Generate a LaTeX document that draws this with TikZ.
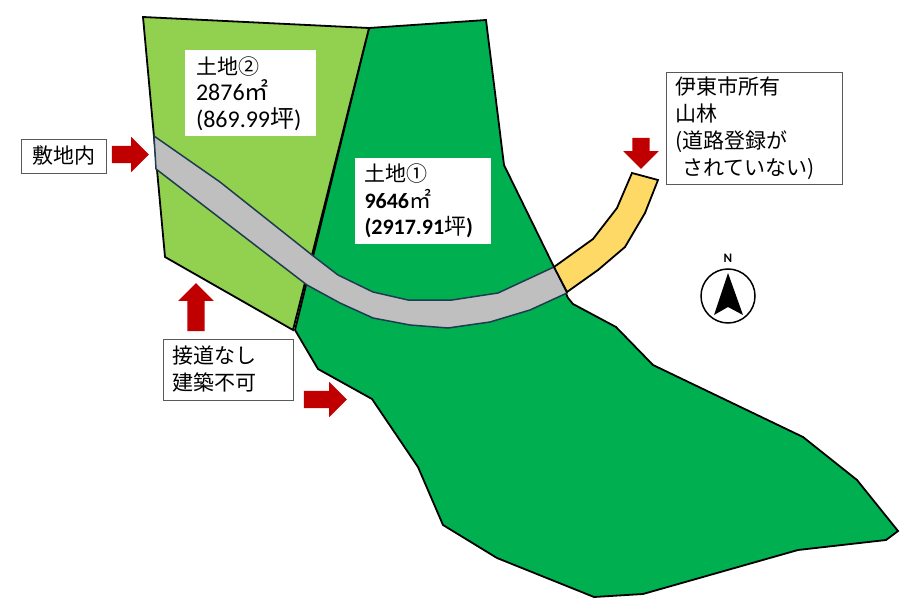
\documentclass[tikz,border=0pt]{standalone}
\usepackage{fontspec}
\setmainfont{Carlito}
\newfontfamily\jpfont{Noto Sans CJK JP}
\newcommand{\jp}[1]{{\mdseries\jpfont #1}}
\usetikzlibrary{shapes.arrows}
\definecolor{landone}{HTML}{00B050}
\definecolor{landtwo}{HTML}{92D050}
\definecolor{roadgray}{HTML}{BFBFBF}
\definecolor{roadedge}{HTML}{1F3B50}
\definecolor{forestyellow}{HTML}{FFD966}
\definecolor{markred}{HTML}{C00000}
\definecolor{boxedge}{HTML}{595959}

\begin{document}
\begin{tikzpicture}[x=1bp, y=-1bp,
    plot/.style={draw=black, line width=1.8bp, line join=miter},
    road/.style={draw=roadedge, line width=1.5bp, fill=roadgray},
    redarrow/.style={single arrow, fill=markred, inner xsep=0pt, inner ysep=8.5bp, minimum height=37bp, minimum width=35bp,
      single arrow head extend=9bp, single arrow head indent=0pt},
    callout/.style={draw=boxedge, line width=0.8bp, fill=white, inner sep=0pt, align=left,
      font=\fontsize{21bp}{27bp}\selectfont\jpfont},
    arealabel/.style={fill=white, inner sep=0pt, align=left, font=\fontsize{24bp}{26.5bp}\selectfont}]
  \useasboundingbox (0,0) rectangle (920,612);

  % Land 1
  \fill[landone, plot] (369,28) -- (486,20) -- (504,165) -- (554,267) -- (568,298) -- (573,304) -- (616,327) -- (653,365)
    -- (803,437) -- (857,480) -- (898,531) -- (886,540) -- (798,550) -- (643,594) -- (594,597) -- (497,558)
    -- (443,525) -- (418,467) -- (372,399) -- (318,369) -- (295,330) -- cycle;

  % Land 2
  \fill[landtwo, plot] (143,17) -- (369,28) -- (312,255) -- (293,330) -- (165,257) -- cycle;

  % Road through both plots
  \draw[road] (154,136) -- (220,182) -- (312,255) -- (338,275) -- (373,292) -- (408,300) -- (452,300)
    -- (498,293) -- (554,267) -- (567,293) -- (530,310) -- (490,322) -- (448,328) -- (410,325) -- (373,318)
    -- (340,303) -- (307,285) -- (156,169) -- cycle;

  % City forest strip
  \fill[forestyellow, plot] (554,267) -- (593,239) -- (617,208) -- (632,173) -- (658,180) -- (645,213)
    -- (625,247) -- (598,270) -- (567,292) -- cycle;

  % Labels on the plots
  \node[arealabel, minimum width=131bp, minimum height=86bp, text width=109bp] (land2) at (250.5,93.5)
    {\jp{\fontsize{21bp}{26.5bp}\selectfont 土地②}\\2876\jp{㎡}\\(869.99\jp{坪})};
  \node[arealabel, minimum width=136bp, minimum height=86bp, text width=117bp, font=\fontsize{22bp}{26.5bp}\selectfont\bfseries] (land1) at (423,201)
    {\jp{\fontsize{21bp}{26.5bp}\selectfont 土地①}\\9646\jp{㎡}\\(2917.91\jp{坪})};

  % Callouts
  \node[callout, minimum width=85bp, minimum height=34bp, align=center] (inside) at (63.5,156) {敷地内};
  \node[callout, minimum width=130bp, minimum height=61bp, text width=112bp] (noaccess) at (228,369.5) {接道なし\\建築不可};
  \node[callout, minimum width=176bp, minimum height=112bp, text width=158bp] (cityforest) at (754,128)
    {伊東市所有\\山林\\(道路登録が\\ \ されていない)};

  % Red arrows
  \node[redarrow] (arrowinside) at (126,154.5) {};
  \node[redarrow, rotate=90, minimum height=48bp] (arrowaccess) at (196,311.5) {};
  \node[redarrow, minimum height=43bp] (arrowslope) at (321,399.5) {};
  \node[redarrow, rotate=-90, minimum height=31bp] (arrowforest) at (641,149) {};

  % North mark
  \node[draw=black, circle, line width=1.5bp, minimum size=54bp, inner sep=0pt] (compass) at (728,296) {};
  \fill (728,273) -- (743,315) -- (728,307) -- (714,315) -- cycle;
  \node[font=\fontsize{13bp}{13bp}\selectfont\bfseries, inner sep=0pt] (north) at (728,258) {N};
\end{tikzpicture}
\end{document}
